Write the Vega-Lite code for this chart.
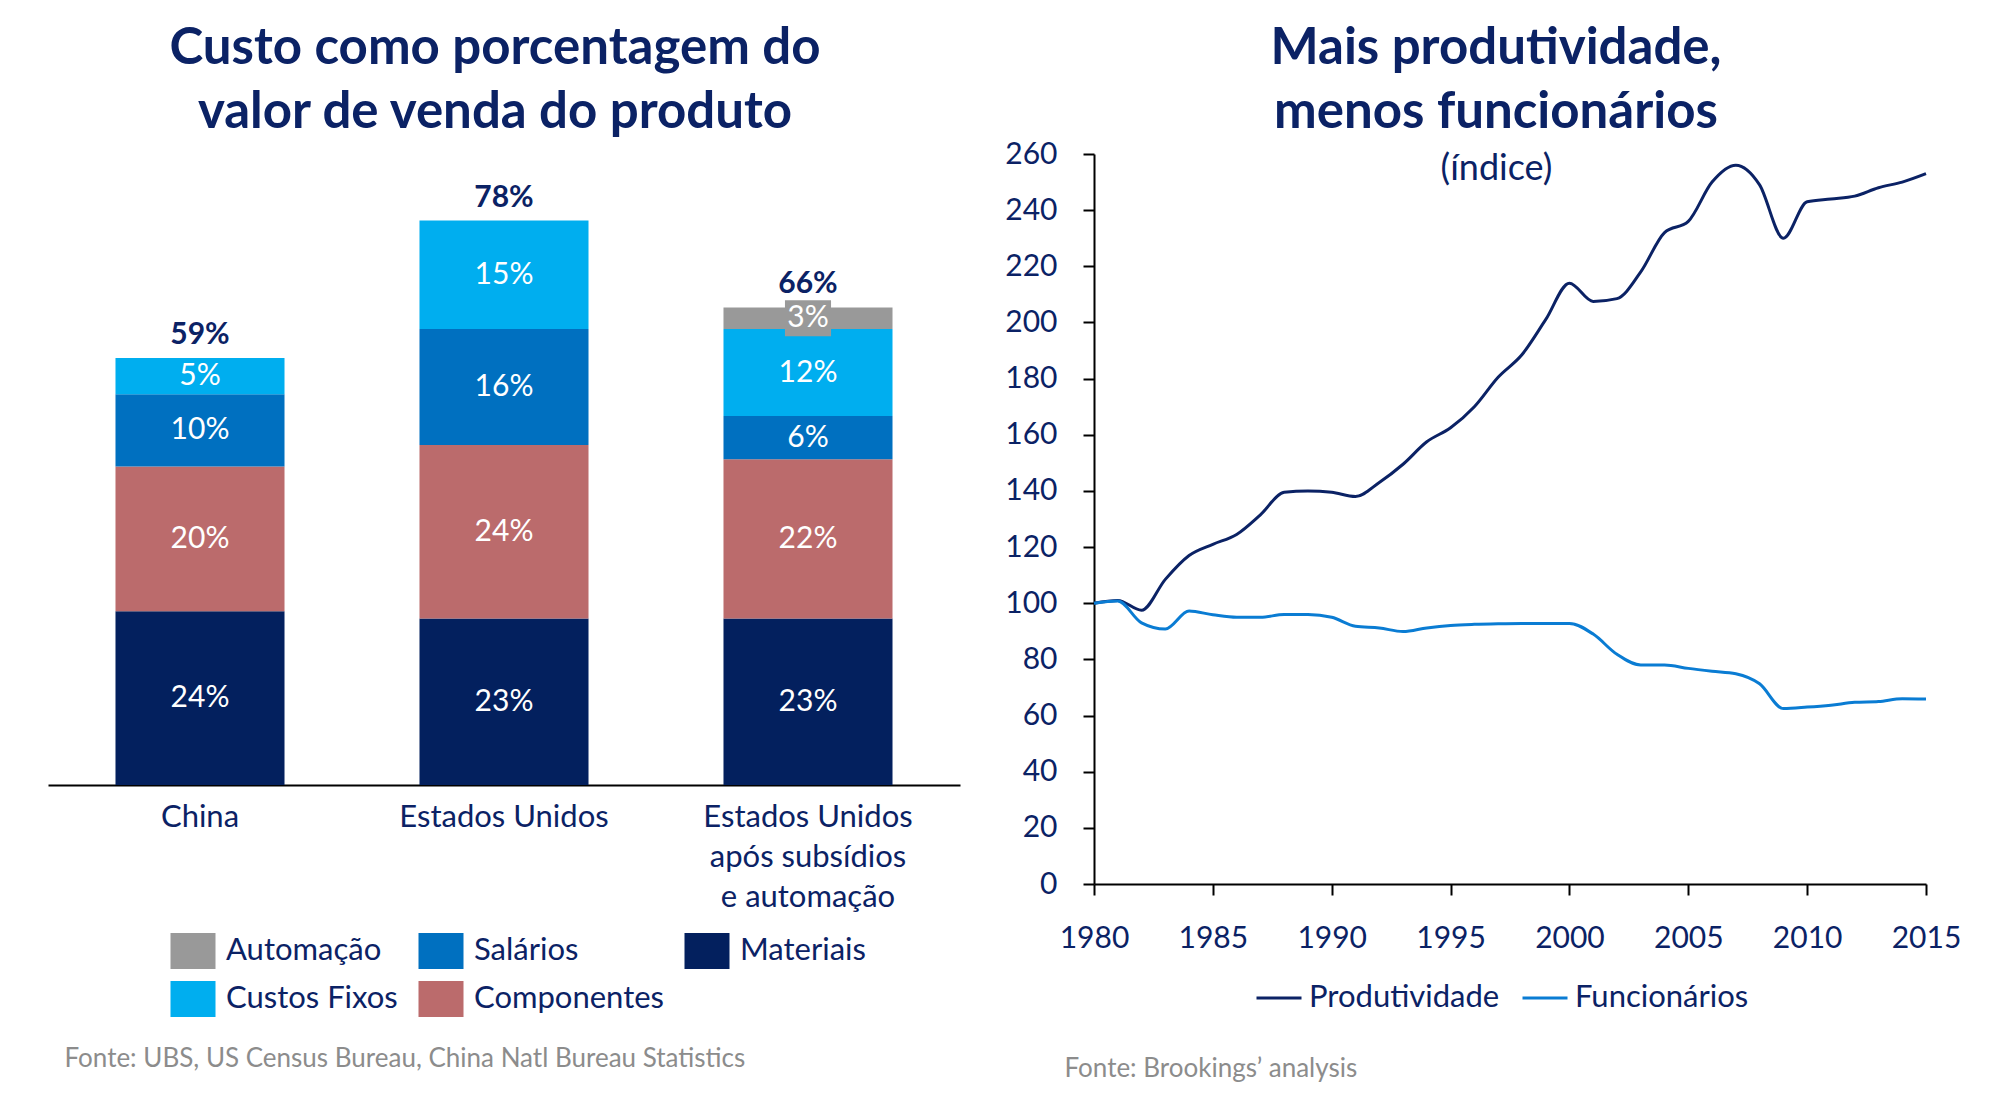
{
  "$schema": "https://vega.github.io/schema/vega-lite/v6.json",
  "autosize": "none",
  "padding": {"left": 48, "top": 154, "right": 1952, "bottom": 949},
  "background": "white",
  "bounds": "flush",
  "spacing": 134,
  "resolve": {"scale": {"color": "independent", "x": "independent", "y": "independent"}, "legend": {"color": "independent"}},
  "config": {
    "font": "Lato",
    "view": {"stroke": null},
    "title": {"font": "Lato", "fontSize": 51, "fontWeight": "bold", "color": "#0B2265", "lineHeight": 64, "baseline": "bottom", "anchor": "middle", "frame": "group"}
  },
  "hconcat": [
    {
      "width": 912,
      "height": 631,
      "title": {"text": ["Custo como porcentagem do", "valor de venda do produto"], "dx": -9, "offset": 15},
      "data": {
        "values": [
          {"pais": "China", "categoria": "Materiais", "ordem": 1, "valor": 24},
          {"pais": "China", "categoria": "Componentes", "ordem": 2, "valor": 20},
          {"pais": "China", "categoria": "Salários", "ordem": 3, "valor": 10},
          {"pais": "China", "categoria": "Custos Fixos", "ordem": 4, "valor": 5},
          {"pais": "Estados Unidos", "categoria": "Materiais", "ordem": 1, "valor": 23},
          {"pais": "Estados Unidos", "categoria": "Componentes", "ordem": 2, "valor": 24},
          {"pais": "Estados Unidos", "categoria": "Salários", "ordem": 3, "valor": 16},
          {"pais": "Estados Unidos", "categoria": "Custos Fixos", "ordem": 4, "valor": 15},
          {"pais": "Estados Unidos|após subsídios|e automação", "categoria": "Materiais", "ordem": 1, "valor": 23},
          {"pais": "Estados Unidos|após subsídios|e automação", "categoria": "Componentes", "ordem": 2, "valor": 22},
          {"pais": "Estados Unidos|após subsídios|e automação", "categoria": "Salários", "ordem": 3, "valor": 6},
          {"pais": "Estados Unidos|após subsídios|e automação", "categoria": "Custos Fixos", "ordem": 4, "valor": 12},
          {"pais": "Estados Unidos|após subsídios|e automação", "categoria": "Automação", "ordem": 5, "valor": 3}
        ]
      },
      "encoding": {
        "x": {
          "field": "pais", "type": "nominal",
          "sort": ["China", "Estados Unidos", "Estados Unidos|após subsídios|e automação"],
          "scale": {"paddingInner": 0.444, "paddingOuter": 0.222},
          "axis": {
            "labelAngle": 0, "labelExpr": "split(datum.label, '|')", "labelLineHeight": 40,
            "labelFontSize": 31, "labelColor": "#0B2265", "labelPadding": 17, "labelBaseline": "top",
            "labelLimit": 500,
            "ticks": false, "tickSize": 0, "domainColor": "#000000", "domainWidth": 2,
            "title": "Fonte: UBS, US Census Bureau, China Natl Bureau Statistics",
            "titleFontSize": 26, "titleFontWeight": "normal", "titleColor": "#8C8C8C",
            "titleAlign": "left", "titleBaseline": "middle", "titleX": 16, "titleY": 273, "titleAnchor": "start"
          }
        }
      },
      "layer": [
        {
          "transform": [
            {"stack": "valor", "groupby": ["pais"], "sort": [{"field": "ordem", "order": "ascending"}], "as": ["v0", "v1"]}
          ],
          "mark": {"type": "bar"},
          "encoding": {
            "y": {"field": "v0", "type": "quantitative", "scale": {"domain": [0, 87.2], "nice": false, "zero": true}, "axis": null},
            "y2": {"field": "v1"},
            "color": {
              "field": "categoria", "type": "nominal",
              "scale": {
                "domain": ["Automação", "Salários", "Materiais", "Custos Fixos", "Componentes"],
                "range": ["#999999", "#0070C0", "#03205E", "#00AEEF", "#BB6B6C"]
              },
              "legend": {
                "orient": "none", "legendX": 127, "legendY": 779, "columns": 3, "direction": "horizontal",
                "title": null, "symbolType": "M-1.25,-1H1.25V1H-1.25Z", "symbolSize": 1296, "symbolStrokeWidth": 0,
                "symbolOpacity": 1, "labelFontSize": 31, "labelColor": "#0B2265", "labelOffset": 15,
                "columnPadding": 20, "rowPadding": 12, "gridAlign": "each", "labelLimit": 400
              }
            }
          }
        },
        {
          "transform": [
            {"stack": "valor", "groupby": ["pais"], "sort": [{"field": "ordem", "order": "ascending"}], "as": ["v0", "v1"]},
            {"calculate": "(datum.v0 + datum.v1) / 2", "as": "meio"},
            {"filter": "datum.categoria === 'Automação'"}
          ],
          "mark": {"type": "point", "shape": "M-1.28,-1H1.28V1H-1.28Z", "size": 1296, "filled": true, "opacity": 1, "color": "#999999", "strokeWidth": 0},
          "encoding": {
            "y": {"field": "meio", "type": "quantitative"}
          }
        },
        {
          "transform": [
            {"stack": "valor", "groupby": ["pais"], "sort": [{"field": "ordem", "order": "ascending"}], "as": ["v0", "v1"]},
            {"calculate": "(datum.v0 + datum.v1) / 2", "as": "meio"},
            {"calculate": "datum.valor + '%'", "as": "rotulo"}
          ],
          "mark": {"type": "text", "color": "#FFFFFF", "fontSize": 30, "baseline": "middle", "align": "center"},
          "encoding": {
            "y": {"field": "meio", "type": "quantitative"},
            "text": {"field": "rotulo"}
          }
        },
        {
          "transform": [
            {"aggregate": [{"op": "sum", "field": "valor", "as": "total"}], "groupby": ["pais"]},
            {"calculate": "datum.total + '%'", "as": "rotulo"}
          ],
          "mark": {"type": "text", "color": "#0B2265", "fontSize": 30, "fontWeight": "bold", "baseline": "bottom", "align": "center", "dy": -8},
          "encoding": {
            "y": {"field": "total", "type": "quantitative"},
            "text": {"field": "rotulo"}
          }
        }
      ]
    },
    {
      "width": 832,
      "height": 730,
      "title": {"text": ["Mais produtividade,", "menos funcionários"], "dx": -14, "offset": 0},
      "data": {
        "values": [
          {"ano": 1980, "serie": "Produtividade", "valor": 100},
          {"ano": 1981, "serie": "Produtividade", "valor": 101},
          {"ano": 1982, "serie": "Produtividade", "valor": 97.5},
          {"ano": 1983, "serie": "Produtividade", "valor": 108.5},
          {"ano": 1984, "serie": "Produtividade", "valor": 117},
          {"ano": 1985, "serie": "Produtividade", "valor": 121},
          {"ano": 1986, "serie": "Produtividade", "valor": 124.5},
          {"ano": 1987, "serie": "Produtividade", "valor": 131.5},
          {"ano": 1988, "serie": "Produtividade", "valor": 139.5},
          {"ano": 1989, "serie": "Produtividade", "valor": 140},
          {"ano": 1990, "serie": "Produtividade", "valor": 139.5},
          {"ano": 1991, "serie": "Produtividade", "valor": 138},
          {"ano": 1992, "serie": "Produtividade", "valor": 143},
          {"ano": 1993, "serie": "Produtividade", "valor": 149.5},
          {"ano": 1994, "serie": "Produtividade", "valor": 157.5},
          {"ano": 1995, "serie": "Produtividade", "valor": 162.5},
          {"ano": 1996, "serie": "Produtividade", "valor": 170},
          {"ano": 1997, "serie": "Produtividade", "valor": 180.5},
          {"ano": 1998, "serie": "Produtividade", "valor": 188.5},
          {"ano": 1999, "serie": "Produtividade", "valor": 201},
          {"ano": 2000, "serie": "Produtividade", "valor": 214},
          {"ano": 2001, "serie": "Produtividade", "valor": 207.5},
          {"ano": 2002, "serie": "Produtividade", "valor": 208.5},
          {"ano": 2003, "serie": "Produtividade", "valor": 218},
          {"ano": 2004, "serie": "Produtividade", "valor": 232},
          {"ano": 2005, "serie": "Produtividade", "valor": 236},
          {"ano": 2006, "serie": "Produtividade", "valor": 250},
          {"ano": 2007, "serie": "Produtividade", "valor": 256},
          {"ano": 2008, "serie": "Produtividade", "valor": 249},
          {"ano": 2009, "serie": "Produtividade", "valor": 230},
          {"ano": 2010, "serie": "Produtividade", "valor": 243},
          {"ano": 2011, "serie": "Produtividade", "valor": 244},
          {"ano": 2012, "serie": "Produtividade", "valor": 245},
          {"ano": 2013, "serie": "Produtividade", "valor": 248},
          {"ano": 2014, "serie": "Produtividade", "valor": 250},
          {"ano": 2015, "serie": "Produtividade", "valor": 253},
          {"ano": 1980, "serie": "Funcionários", "valor": 100},
          {"ano": 1981, "serie": "Funcionários", "valor": 100.8},
          {"ano": 1982, "serie": "Funcionários", "valor": 93},
          {"ano": 1983, "serie": "Funcionários", "valor": 90.8},
          {"ano": 1984, "serie": "Funcionários", "valor": 97.2},
          {"ano": 1985, "serie": "Funcionários", "valor": 95.9},
          {"ano": 1986, "serie": "Funcionários", "valor": 95},
          {"ano": 1987, "serie": "Funcionários", "valor": 95},
          {"ano": 1988, "serie": "Funcionários", "valor": 96},
          {"ano": 1989, "serie": "Funcionários", "valor": 96},
          {"ano": 1990, "serie": "Funcionários", "valor": 95},
          {"ano": 1991, "serie": "Funcionários", "valor": 91.8},
          {"ano": 1992, "serie": "Funcionários", "valor": 91.2},
          {"ano": 1993, "serie": "Funcionários", "valor": 89.9},
          {"ano": 1994, "serie": "Funcionários", "valor": 91.2},
          {"ano": 1995, "serie": "Funcionários", "valor": 92.1},
          {"ano": 1996, "serie": "Funcionários", "valor": 92.5},
          {"ano": 1997, "serie": "Funcionários", "valor": 92.7},
          {"ano": 1998, "serie": "Funcionários", "valor": 92.8},
          {"ano": 1999, "serie": "Funcionários", "valor": 92.8},
          {"ano": 2000, "serie": "Funcionários", "valor": 92.8},
          {"ano": 2001, "serie": "Funcionários", "valor": 89},
          {"ano": 2002, "serie": "Funcionários", "valor": 81.8},
          {"ano": 2003, "serie": "Funcionários", "valor": 78},
          {"ano": 2004, "serie": "Funcionários", "valor": 78},
          {"ano": 2005, "serie": "Funcionários", "valor": 76.8},
          {"ano": 2006, "serie": "Funcionários", "valor": 75.8},
          {"ano": 2007, "serie": "Funcionários", "valor": 74.9},
          {"ano": 2008, "serie": "Funcionários", "valor": 71.3},
          {"ano": 2009, "serie": "Funcionários", "valor": 62.5},
          {"ano": 2010, "serie": "Funcionários", "valor": 63},
          {"ano": 2011, "serie": "Funcionários", "valor": 63.7},
          {"ano": 2012, "serie": "Funcionários", "valor": 64.7},
          {"ano": 2013, "serie": "Funcionários", "valor": 65},
          {"ano": 2014, "serie": "Funcionários", "valor": 66},
          {"ano": 2015, "serie": "Funcionários", "valor": 65.9}
        ]
      },
      "mark": {"type": "line", "interpolate": "monotone", "strokeWidth": 3},
      "encoding": {
        "x": {
          "field": "ano", "type": "quantitative",
          "scale": {"domain": [1980, 2015], "nice": false, "zero": false},
          "axis": {
            "values": [1980, 1985, 1990, 1995, 2000, 2005, 2010, 2015], "format": "d",
            "grid": false, "tickSize": 11, "tickWidth": 2, "tickColor": "#000000",
            "domainColor": "#000000", "domainWidth": 2, "labelOverlap": false, "labelFlush": false,
            "labelFontSize": 30, "labelColor": "#0B2265", "labelPadding": 28,
            "title": "Fonte: Brookings’ analysis",
            "titleFontSize": 26, "titleFontWeight": "normal", "titleColor": "#8C8C8C",
            "titleAlign": "left", "titleBaseline": "middle", "titleX": -30, "titleY": 184, "titleAnchor": "start"
          }
        },
        "y": {
          "field": "valor", "type": "quantitative",
          "scale": {"domain": [0, 260], "nice": false},
          "axis": {
            "values": [0, 20, 40, 60, 80, 100, 120, 140, 160, 180, 200, 220, 240, 260],
            "grid": false, "tickSize": 11, "tickWidth": 2, "tickColor": "#000000",
            "domainColor": "#000000", "domainWidth": 2, "labelOverlap": false, "labelFlush": false,
            "labelFontSize": 30, "labelColor": "#0B2265", "labelPadding": 26,
            "title": "(índice)", "titleAngle": 0, "titleFontSize": 36, "titleFontWeight": "normal",
            "titleColor": "#0B2265", "titleAlign": "center", "titleBaseline": "middle",
            "titleX": 402, "titleY": 14
          }
        },
        "color": {
          "field": "serie", "type": "nominal",
          "scale": {"domain": ["Produtividade", "Funcionários"], "range": ["#0B2265", "#0A7CD3"]},
          "legend": {
            "orient": "none", "legendX": 161, "legendY": 820, "direction": "horizontal",
            "title": null, "symbolType": "stroke", "symbolSize": 2025, "symbolStrokeWidth": 3,
            "labelFontSize": 31, "labelColor": "#0B2265", "labelOffset": 6, "columnPadding": 16,
            "labelLimit": 400
          }
        }
      }
    }
  ]
}
